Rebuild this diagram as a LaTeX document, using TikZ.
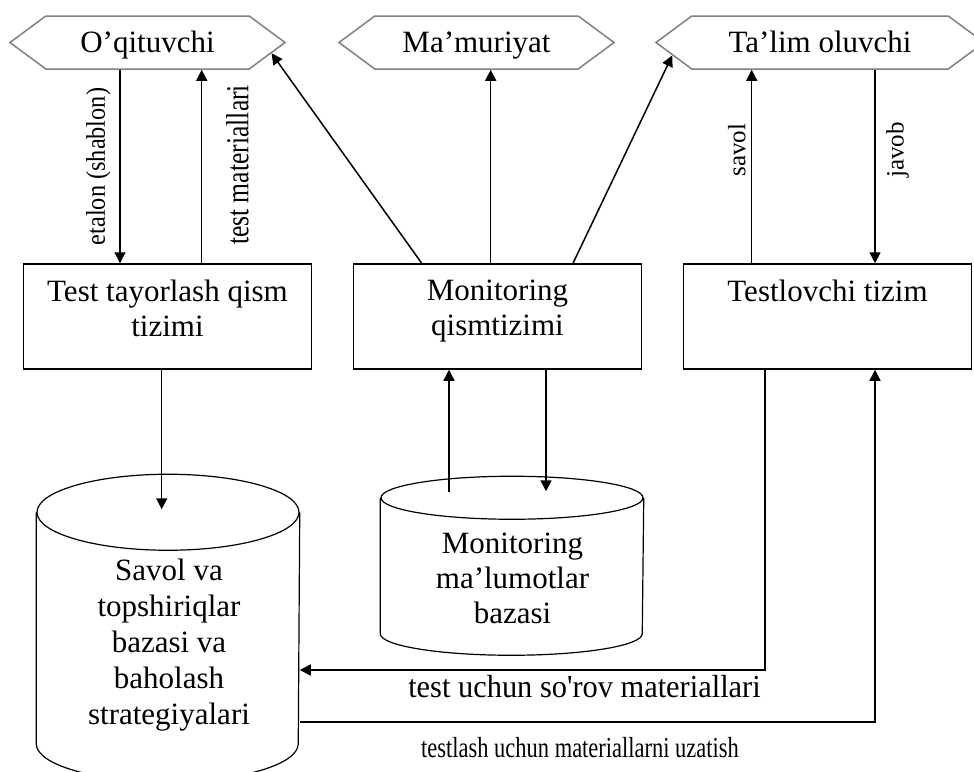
\documentclass[tikz,border=0pt]{standalone}
\usepackage{fontspec}
\setmainfont{Liberation Serif}
\usepackage{tikz}
\usetikzlibrary{arrows.meta,positioning,shapes.symbols}
\tikzset{font={\fontsize{15.5pt}{17.5pt}\selectfont}}
\newcommand{\narrow}[2]{\scalebox{#1}[1]{#2}}

\begin{document}
\begin{tikzpicture}[x=0.5pt,y=-0.5pt,line width=0.75pt,
>={Triangle[length=5.5pt,width=5.5pt]},
actor/.style={signal,signal to=west and east,signal pointer angle=73,draw=gray,minimum width=#1,minimum height=26.5pt,inner sep=0pt,text height=11pt,text depth=1.5pt},
sub/.style={draw,minimum width=144pt,minimum height=52.5pt},
txt/.style={inner sep=0pt,align=center},
db/.style={inner sep=0pt,minimum width=131pt,minimum height=#1}
]
\useasboundingbox (0,0) rectangle (974,771);
% actors
\node[actor=137.5pt] (oqit) at (147.5,42.5) {O’qituvchi};
\node[actor=137.5pt] (mamur) at (476.5,42.5) {Ma’muriyat};
\node[actor=164pt] (talim) at (820,42.5) {Ta’lim oluvchi};
% subsystems
\node[sub] (tts) at (167.5,316.5) {};
\node[sub] (mon) at (497.5,316.5) {};
\node[sub] (tt) at (827.5,316.5) {};
\node[txt,below=8pt of tts.north] (ttst) {Test tayorlash qism\\tizimi};
\node[txt,below=8pt of mon.north] (mont) {Monitoring\\qismtizimi};
\node[txt,below=8pt of tt.north] (ttt) {Testlovchi tizim};
% databases (node = body between the two ellipse centres)
\node[db=115pt] (savdb) at (168,628) {};
\node[db=67.25pt] (mondb) at (512,565.75) {};
\draw[line width=0.6pt] (savdb.north) ellipse [x radius=65.5pt,y radius=19pt];
\draw[line width=0.6pt] (savdb.north west) -- (savdb.south west) arc[start angle=180,end angle=360,x radius=65.5pt,y radius=19pt] -- (savdb.north east);
\draw[line width=0.6pt] (mondb.north) ellipse [x radius=65.5pt,y radius=10.75pt];
\draw[line width=0.6pt] (mondb.north west) -- (mondb.south west) arc[start angle=180,end angle=360,x radius=65.5pt,y radius=10.75pt] -- (mondb.north east);
\node[txt,font=\fontsize{15.5pt}{18pt}\selectfont] (savt) at (169,645.5) {Savol va\\topshiriqlar\\bazasi va\\baholash\\strategiyalari};
\node[txt] (mondbt) at (512.5,578) {Monitoring\\ma’lumotlar\\bazasi};

\draw[->] ([xshift=-13.75pt]oqit.south) -- ([xshift=-23.75pt]tts.north);
\draw[->] ([xshift=17.1pt]tts.north) -- ([xshift=27.1pt]oqit.south);
\node[rotate=90] (etl) at (98.5,166.5) {\narrow{0.9}{\fontsize{13.5pt}{15pt}\selectfont etalon (shablon)}};
\node[rotate=90] (tml) at (237.5,165) {\narrow{0.8}{\fontsize{16pt}{18pt}\selectfont test materiallari}};

\draw[->] ([xshift=-37.9pt]mon.north) -- (oqit.-5);
\draw[->] ([xshift=-3.4pt]mon.north) -- ([xshift=7.1pt]mamur.south);
\draw[->] ([xshift=37.75pt]mon.north) -- (talim.185);

\draw[->] ([xshift=-37.9pt]tt.north) -- ([xshift=-34.15pt]talim.south);
\draw[->] ([xshift=27.5pt]talim.south) -- ([xshift=23.75pt]tt.north);
\node[rotate=90,font=\fontsize{12.5pt}{14pt}\selectfont] (svl) at (736.7,150) {savol};
\node[rotate=90,font=\fontsize{12.5pt}{14pt}\selectfont] (jvb) at (897.5,150) {javob};

\draw[->] ([xshift=-2.9pt]tts.south) -- ([xshift=-3.15pt,yshift=1.5pt]savdb.north);
\draw[->] ([xshift=-31.5pt,yshift=2.75pt]mondb.north) -- ([xshift=-24.25pt]mon.south);
\draw[->] ([xshift=24.25pt]mon.south) -- ([xshift=17pt,yshift=3.25pt]mondb.north);

\draw[->] ([xshift=-31.25pt]tt.south) |- ([yshift=-21pt]savdb.east);
\draw[->] ([yshift=-47pt]savdb.east) -| ([xshift=23.75pt]tt.south);
\node (zlab) at (584.5,687) {\narrow{0.95}{\fontsize{16pt}{18pt}\selectfont test uchun so\textquotesingle rov materiallari}};
\node (ulab) at (580,748) {\narrow{0.775}{\fontsize{14.5pt}{16pt}\selectfont testlash uchun materiallarni uzatish}};
\end{tikzpicture}
\end{document}
